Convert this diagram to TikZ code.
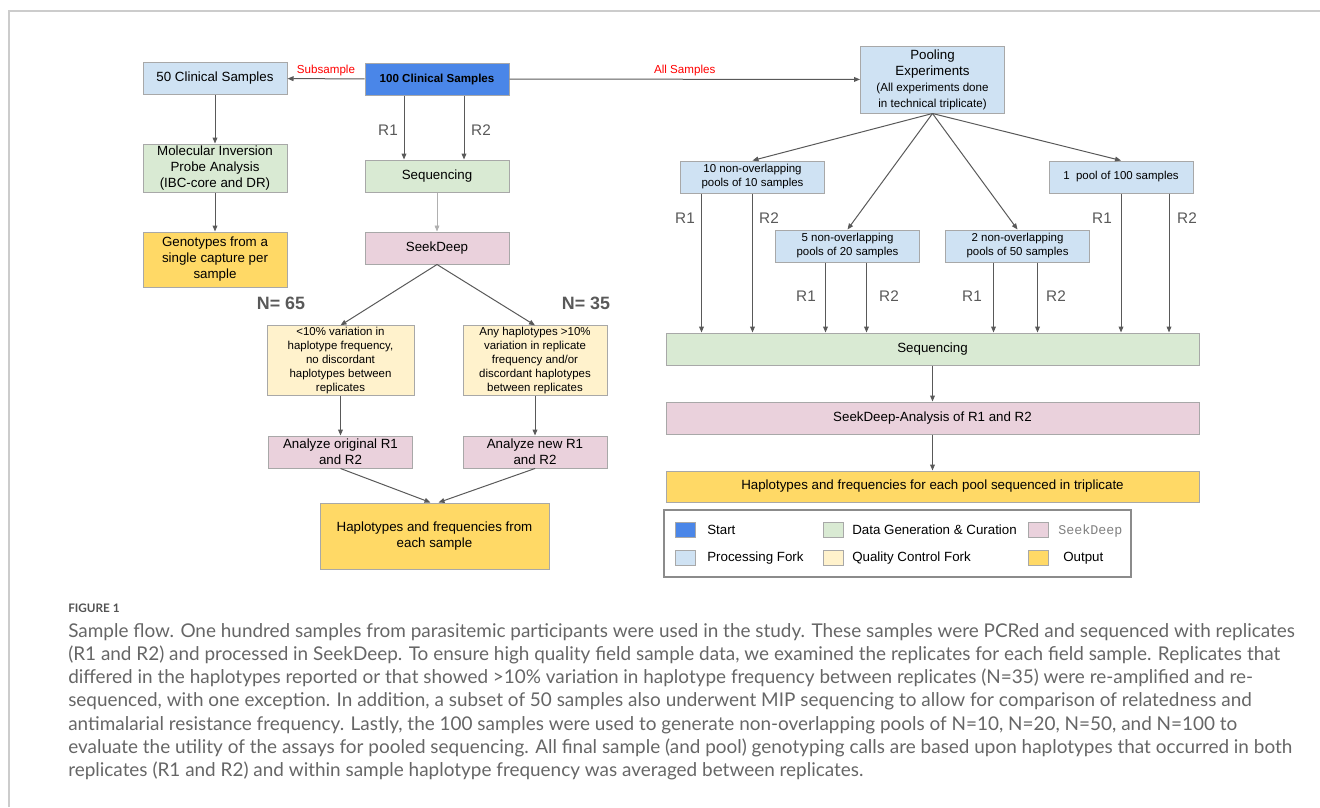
\documentclass[tikz,border=0pt]{standalone}
\usepackage{fontspec}
\setmainfont{Liberation Sans}
\setmonofont{Liberation Mono}
\newfontfamily\capfont{Lato}
\usetikzlibrary{arrows.meta,positioning,calc}
\definecolor{startblue}{HTML}{4A86E8}
\definecolor{procblue}{HTML}{CFE2F3}
\definecolor{datagreen}{HTML}{D9EAD3}
\definecolor{seekpink}{HTML}{EAD1DC}
\definecolor{qcyellow}{HTML}{FFF2CC}
\definecolor{outyellow}{HTML}{FFD966}
\definecolor{edgegray}{HTML}{A8A8A8}
\definecolor{arrgray}{HTML}{595959}
\definecolor{lightarr}{HTML}{B0B0B0}
\definecolor{capgray}{HTML}{666666}
\definecolor{framegray}{HTML}{CCCCCC}
\definecolor{redlabel}{HTML}{FF0000}

\begin{document}
\begin{tikzpicture}[x=0.75pt, y=-0.75pt, >=Stealth,
    box/.style={draw=edgegray, line width=0.75pt, align=center, inner sep=1pt,
      minimum width=108pt, minimum height=24pt, font=\fontsize{10}{12}\selectfont},
    smallbox/.style={box, font=\fontsize{8.6}{10.5}\selectfont},
    startbox/.style={fill=startblue},
    procbox/.style={fill=procblue},
    databox/.style={fill=datagreen},
    seekbox/.style={fill=seekpink},
    qcbox/.style={fill=qcyellow},
    outbox/.style={fill=outyellow},
    arr/.style={draw=arrgray, line width=0.75pt, -{Triangle[length=4.5pt,width=3.6pt]}},
    rlab/.style={text=arrgray, font=\fontsize{11.5}{12}\selectfont, inner sep=0pt},
    nlab/.style={text=arrgray, font=\fontsize{13.4}{14}\selectfont\bfseries, inner sep=0pt},
    redlab/.style={text=redlabel, font=\fontsize{8.7}{10}\selectfont, inner sep=2pt},
    keysq/.style={draw=edgegray, line width=0.6pt, minimum width=15pt, minimum height=11.25pt, inner sep=0pt},
    keytxt/.style={anchor=west, inner sep=0pt, font=\fontsize{10}{12}\selectfont},
    captext/.style={text=capgray, align=left, inner sep=0pt, anchor=north west,
      font=\capfont\fontsize{14.2}{17.4}\selectfont}]
  \useasboundingbox (0,0) rectangle (1320,807);
  \draw[framegray, line width=1.1pt] (9,807) -- (9,11) -- (1320,11);

  % single-sample branch
  \node[box, startbox, font=\fontsize{8.7}{10}\selectfont\bfseries] (all100) at (437,79) {100 Clinical Samples};
  \node[box, procbox] (sub50) at (215,78.5) {50 Clinical Samples};
  \node[box, databox, minimum height=36pt] (mip) at (215,168)
       {Molecular Inversion\\ Probe Analysis\\ (IBC-core and DR)};
  \node[box, outbox, minimum height=41.25pt] (geno) at (215,259.5)
       {Genotypes from a\\ single capture per\\ sample};
  \node[box, databox] (seqL) at (437,176) {Sequencing};
  \node[box, seekbox] (seekL) at (437,248) {SeekDeep};
  \node[smallbox, qcbox, minimum width=110.25pt, minimum height=50.25pt] (qcL) at (340.5,360.5)
       {<10\% variation in\\ haplotype frequency,\\ no discordant\\ haplotypes between\\ replicates};
  \node[smallbox, qcbox, minimum height=50.25pt] (qcR) at (535,360.5)
       {Any haplotypes >10\%\\ variation in replicate\\ frequency and/or\\ discordant haplotypes\\ between replicates};
  \node[box, seekbox] (anaL) at (340.5,452) {Analyze original R1\\ and R2};
  \node[box, seekbox] (anaR) at (535,452) {Analyze new R1\\ and R2};
  \node[box, outbox, minimum width=171.75pt, minimum height=49.5pt] (outL) at (434.5,536)
       {Haplotypes and frequencies from\\ each sample};
  \node[nlab] (n65) at (281,303) {N= 65};
  \node[nlab] (n35) at (586,303) {N= 35};

  \draw[arr] (all100) -- node[redlab, above] (subl) {Subsample} (sub50);
  \draw[arr] (sub50) -- (mip);
  \draw[arr] (mip) -- (geno);
  \coordinate (r1a) at ($(all100.south)+(-33,0)$);
  \coordinate (r2a) at ($(all100.south)+(27,0)$);
  \draw[arr] (r1a) -- (r1a |- seqL.north);
  \draw[arr] (r2a) -- (r2a |- seqL.north);
  \node[rlab] (r1l) at (388,130) {R1};
  \node[rlab] (r2l) at (481,130) {R2};
  \draw[arr, draw=lightarr, line width=0.5pt] (seqL) -- (seekL);
  \draw[arr] (seekL.south) -- (qcL.north);
  \draw[arr] (seekL.south) -- (qcR.north);
  \draw[arr] (qcL) -- (anaL);
  \draw[arr] (qcR) -- (anaR);
  \draw[arr] (anaL.south) -- ($(outL.north)+(-4,0)$);
  \draw[arr] (anaR.south) -- ($(outL.north)+(4,0)$);

  % pooling branch
  \node[box, procbox, minimum height=50.25pt] (pool) at (932.5,79.5)
       {Pooling\\ Experiments\\ {\fontsize{8.7}{10.5}\selectfont (All experiments done}\\
        {\fontsize{8.7}{10.5}\selectfont in technical triplicate)}};
  \node[smallbox, procbox] (p10) at (752.5,177) {10 non-overlapping\\ pools of 10 samples};
  \node[smallbox, procbox] (p5) at (847.5,246) {5 non-overlapping\\ pools of 20 samples};
  \node[smallbox, procbox] (p2) at (1017.5,246) {2 non-overlapping\\ pools of 50 samples};
  \node[smallbox, procbox] (p1) at (1121,177) {1\ \ pool of 100 samples};
  \node[box, databox, minimum width=399.75pt] (seqR) at (932.5,349) {Sequencing};
  \node[box, seekbox, minimum width=399.75pt] (seekR) at (932.5,418) {SeekDeep-Analysis of R1 and R2};
  \node[box, outbox, minimum width=399.75pt, minimum height=23.25pt] (outR) at (932.5,486.5)
       {Haplotypes and frequencies for each pool sequenced in triplicate};

  \draw[arr] (all100) -- node[redlab, above] (alll) {All Samples} (pool);
  \foreach \p in {p10,p5,p2,p1}
    \draw[arr] (pool.south) -- (\p.north);
  \foreach \p/\dx [count=\i] in {p10/-51, p10/0, p5/-22, p5/19, p2/-24, p2/20, p1/0, p1/48} {
    \coordinate (t\i) at ($(\p.south)+(\dx,0)$);
    \draw[arr] (t\i) -- (t\i |- seqR.north);
  }
  \foreach \x/\y/\t [count=\i] in {685/218/R1, 769/218/R2, 806/296/R1, 889/296/R2,
                                   972/296/R1, 1056/296/R2, 1102/218/R1, 1187/218/R2}
    \node[rlab] (rp\i) at (\x,\y) {\t};
  \draw[arr] (seqR) -- (seekR);
  \draw[arr] (seekR) -- (outR);

  % legend
  \node[draw=arrgray!70, line width=1pt, minimum width=350.25pt, minimum height=50.25pt] (key) at (897.5,543.5) {};
  \node[keysq, startbox] (k1) at (685.5,530) {};
  \node[keysq, procbox] (k2) at (685.5,558) {};
  \node[keysq, databox] (k3) at (833,530) {};
  \node[keysq, qcbox] (k4) at (833,558) {};
  \node[keysq, seekbox] (k5) at (1038,530) {};
  \node[keysq, outbox] (k6) at (1038,558) {};
  \node[keytxt] (k1t) at (707,530) {Start};
  \node[keytxt] (k2t) at (707,558) {Processing Fork};
  \node[keytxt] (k3t) at (852,530) {Data Generation \& Curation};
  \node[keytxt] (k4t) at (852,558) {Quality Control Fork};
  \node[keytxt, text=gray, font=\ttfamily\fontsize{10}{12}\selectfont] (k5t) at (1058,531) {SeekDeep};
  \node[keytxt] (k6t) at (1063,558) {Output};

  % caption
  \node[anchor=west, inner sep=0pt, text=capgray!80!black, font=\capfont\bfseries\fontsize{8.8}{10}\selectfont] (fig) at (68,608) {FIGURE 1};
  \node[captext] (cap) at (68,623)
  {Sample flow. One hundred samples from parasitemic participants were used in the study. These samples were PCRed and sequenced with replicates\\
   (R1 and R2) and processed in SeekDeep. To ensure high quality field sample data, we examined the replicates for each field sample. Replicates that\\
   differed in the haplotypes reported or that showed >10\% variation in haplotype frequency between replicates (N=35) were re-amplified and re-\\
   sequenced, with one exception. In addition, a subset of 50 samples also underwent MIP sequencing to allow for comparison of relatedness and\\
   antimalarial resistance frequency. Lastly, the 100 samples were used to generate non-overlapping pools of N=10, N=20, N=50, and N=100 to\\
   evaluate the utility of the assays for pooled sequencing. All final sample (and pool) genotyping calls are based upon haplotypes that occurred in both\\
   replicates (R1 and R2) and within sample haplotype frequency was averaged between replicates.};
\end{tikzpicture}
\end{document}
